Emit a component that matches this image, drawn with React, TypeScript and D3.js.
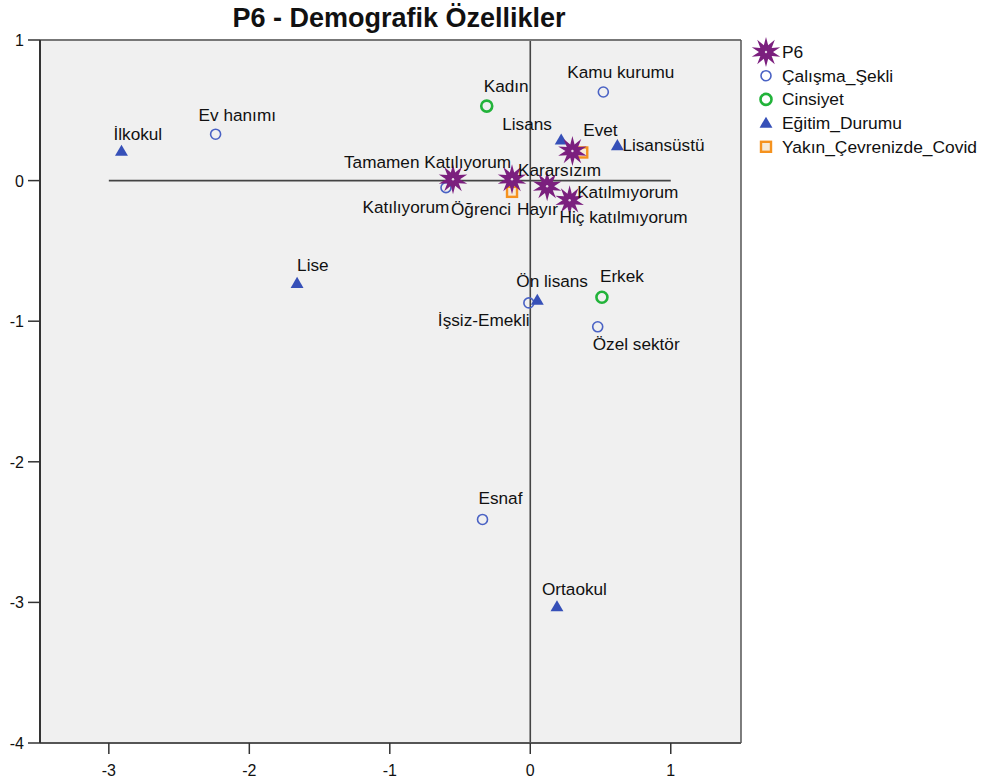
import React from 'react';
import * as d3 from 'd3';

// P6 categories (stars)
const p6Names = ['Tamamen Katılıyorum', 'Kararsızım', 'Katılmıyorum', 'Hiç katılmıyorum', 'Katılıyorum'];
const p6X = [-0.55, -0.13, 0.12, 0.28, 0.30];
const p6Y = [0.01, 0.01, -0.04, -0.14, 0.21];

// Çalışma_Şekli (open blue circles)
const calismaNames = ['Ev hanımı', 'Kamu kurumu', 'Öğrenci', 'İşsiz-Emekli', 'Özel sektör', 'Esnaf'];
const calismaX = [-2.24, 0.52, -0.60, -0.01, 0.48, -0.34];
const calismaY = [0.33, 0.63, -0.05, -0.87, -1.04, -2.41];

// Cinsiyet (green circles)
const cinsiyetNames = ['Kadın', 'Erkek'];
const cinsiyetX = [-0.31, 0.51];
const cinsiyetY = [0.53, -0.83];

// Eğitim_Durumu (blue triangles)
const egitimNames = ['İlkokul', 'Lise', 'Ön lisans', 'Lisans', 'Lisansüstü', 'Ortaokul'];
const egitimX = [-2.91, -1.66, 0.05, 0.22, 0.62, 0.19];
const egitimY = [0.21, -0.73, -0.85, 0.29, 0.25, -3.03];

// Yakın_Çevrenizde_Covid (orange squares)
const covidNames = ['Hayır', 'Evet'];
const covidX = [-0.13, 0.37];
const covidY = [-0.08, 0.20];

const xTicks = [-3, -2, -1, 0, 1];
const yTicks = [1, 0, -1, -2, -3, -4];
const legendNames = ['P6', 'Çalışma_Şekli', 'Cinsiyet', 'Eğitim_Durumu', 'Yakın_Çevrenizde_Covid'];

// label placement (px offset from the marker, left/baseline of the text)
const labelOffset: Record<string, [number, number]> = {
  'Tamamen Katılıyorum': [-109, -11],
  'Kararsızım': [6, -3],
  'Katılmıyorum': [30, 12],
  'Hiç katılmıyorum': [-10, 23],
  'Katılıyorum': [-210, 62],
  'Ev hanımı': [-17, -13],
  'Kamu kurumu': [-36, -14],
  'Öğrenci': [5, 27],
  'İşsiz-Emekli': [-91, 23],
  'Özel sektör': [-5, 23],
  'Esnaf': [-4, -15],
  'Kadın': [-3, -14],
  'Erkek': [-2, -15],
  'İlkokul': [-8, -11],
  'Lise': [0, -12],
  'Ön lisans': [-21, -13],
  'Lisans': [-59, -10],
  'Lisansüstü': [5, 6],
  'Ortaokul': [-15, -12],
  'Hayır': [5, 23],
  'Evet': [1, -16],
};

const FONT = '"Liberation Sans", Arial, sans-serif';
const W = 994, H = 780;
const plot = { left: 40, right: 741, top: 40, bottom: 743 };

const PURPLE = '#7b1f7e';
const BLUE = '#4a62c4';
const GREEN = '#22b33a';
const TRI = '#3650b8';
const ORANGE = '#f5921e';

// many-pointed star like SPSS
function starPath(outer: number, inner: number, points = 10) {
  const pts: [number, number][] = d3.range(points * 2).map(i => [
    (i * Math.PI) / points,
    i % 2 === 0 ? outer : inner,
  ]);
  return d3.lineRadial().curve(d3.curveLinearClosed)(pts) || '';
}
const triPath = d3.symbol().type(d3.symbolTriangle).size(72)() || '';

function Marker({ kind, x, y }: { kind: string; x: number; y: number }) {
  const t = `translate(${x},${y})`;
  if (kind === 'star')
    return (
      <g transform={t}>
        <path d={starPath(15, 7)} fill={PURPLE} />
        <circle r={1.2} fill="#e8d8e8" />
      </g>
    );
  if (kind === 'circle')
    return <circle cx={x} cy={y} r={5} fill="none" stroke={BLUE} strokeWidth={1.6} />;
  if (kind === 'green')
    return <circle cx={x} cy={y} r={5.5} fill="none" stroke={GREEN} strokeWidth={2.6} />;
  if (kind === 'tri') return <path transform={`translate(${x},${y + 1})`} d={triPath} fill={TRI} />;
  return (
    <rect x={x - 5} y={y - 5} width={10} height={10} fill="#f6ead8" stroke={ORANGE} strokeWidth={2.4} />
  );
}

export default function App() {
  const x = d3.scaleLinear().domain([-3.49, 1.5]).range([plot.left, plot.right]);
  const y = d3.scaleLinear().domain([1, -4]).range([plot.top, plot.bottom]);

  const groups = [
    { kind: 'circle', names: calismaNames, xs: calismaX, ys: calismaY },
    { kind: 'green', names: cinsiyetNames, xs: cinsiyetX, ys: cinsiyetY },
    { kind: 'tri', names: egitimNames, xs: egitimX, ys: egitimY },
    { kind: 'square', names: covidNames, xs: covidX, ys: covidY },
    { kind: 'star', names: p6Names, xs: p6X, ys: p6Y },
  ];
  const legendKinds = ['star', 'circle', 'green', 'tri', 'square'];

  return (
    <svg width={W} height={H} style={{ position: 'absolute', left: 0, top: 0, fontFamily: FONT }}>
      <rect width={W} height={H} fill="#fff" />
      <text x={399} y={27} textAnchor="middle" fontSize={27} fontWeight="bold" fill="#111">
        P6 - Demografik Özellikler
      </text>

      <rect x={plot.left} y={plot.top} width={plot.right - plot.left} height={plot.bottom - plot.top} fill="#f0f0f0" />

      {/* reference lines */}
      <line x1={x(-3)} x2={x(1)} y1={y(0)} y2={y(0)} stroke="#444" strokeWidth={1.6} />
      <line x1={x(0)} x2={x(0)} y1={plot.top} y2={plot.bottom} stroke="#444" strokeWidth={1.6} />

      {/* frame */}
      <line x1={plot.left} x2={plot.right} y1={plot.top} y2={plot.top} stroke="#777" strokeWidth={2} />
      <line x1={plot.right} x2={plot.right} y1={plot.top} y2={plot.bottom} stroke="#555" strokeWidth={1.5} />
      <line x1={plot.left} x2={plot.right} y1={plot.bottom} y2={plot.bottom} stroke="#555" strokeWidth={2} />
      <line x1={plot.left} x2={plot.left} y1={plot.top} y2={plot.bottom} stroke="#333" strokeWidth={2} />

      {/* y axis */}
      {yTicks.map(t => (
        <g key={'y' + t}>
          <line x1={plot.left - 12} x2={plot.left} y1={y(t)} y2={y(t)} stroke="#333" strokeWidth={1.5} />
          <text x={plot.left - 16} y={y(t) + 6} textAnchor="end" fontSize={16} fill="#111">{t}</text>
        </g>
      ))}
      {/* x axis */}
      {xTicks.map(t => (
        <g key={'x' + t}>
          <line x1={x(t)} x2={x(t)} y1={plot.bottom} y2={plot.bottom + 11} stroke="#333" strokeWidth={1.5} />
          <text x={x(t)} y={plot.bottom + 33} textAnchor="middle" fontSize={16} fill="#111">{t}</text>
        </g>
      ))}

      {/* points */}
      {groups.map(g =>
        g.names.map((n, i) => (
          <Marker key={g.kind + n} kind={g.kind} x={x(g.xs[i])} y={y(g.ys[i])} />
        ))
      )}
      {/* labels */}
      {groups.map(g =>
        g.names.map((n, i) => {
          const [dx, dy] = labelOffset[n] || [5, -8];
          return (
            <text key={'l' + n} x={x(g.xs[i]) + dx} y={y(g.ys[i]) + dy} fontSize={17.2} fill="#111">
              {n}
            </text>
          );
        })
      )}

      {/* legend */}
      {legendNames.map((n, i) => {
        const cy = 52 + i * 23.7;
        return (
          <g key={'lg' + n}>
            <Marker kind={legendKinds[i]} x={766} y={cy} />
            <text x={782} y={cy + 6} fontSize={17.4} fill="#111">{n}</text>
          </g>
        );
      })}
    </svg>
  );
}
